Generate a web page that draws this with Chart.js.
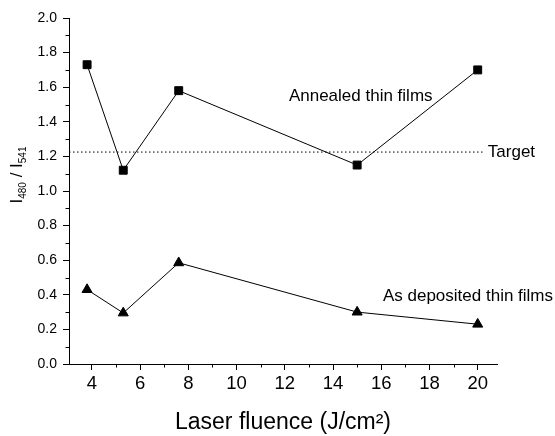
<!DOCTYPE html>
<html>
<head>
<meta charset="utf-8">
<script src="https://cdn.jsdelivr.net/npm/chart.js"></script>
<style>
  html, body { margin: 0; padding: 0; background: #fff; }
  canvas { display: block; }
</style>
</head>
<body>
<canvas id="chart" width="555" height="436"></canvas>
<script>
const fluence = [3.8, 5.3, 7.6, 15, 20];
const annealed = [1.73, 1.12, 1.58, 1.15, 1.70];
const asDeposited = [0.43, 0.295, 0.585, 0.30, 0.23];
const targetValue = 1.225;
const targetSpan = [3.05, 20.3];

const xTicks = [4, 6, 8, 10, 12, 14, 16, 18, 20];
const xMinor = [5, 7, 9, 11, 13, 15, 17, 19];
const yTicks = [0, 0.2, 0.4, 0.6, 0.8, 1.0, 1.2, 1.4, 1.6, 1.8, 2.0];
const yMinor = [0.1, 0.3, 0.5, 0.7, 0.9, 1.1, 1.3, 1.5, 1.7, 1.9];

// annotation texts, anchored in data units (left edge, vertical middle)
const notes = [
  { text: "Annealed thin films", x: 12.17, y: 1.545 },
  { text: "Target", x: 20.42, y: 1.225 },
  { text: "As deposited thin films", x: 16.07, y: 0.39 }
];

const FONT = "'Liberation Sans', Arial, sans-serif";

const points = (ys) => fluence.map((x, i) => ({ x: x, y: ys[i] }));

// minor ticks, note texts and the subscripted y title
const extras = {
  id: "extras",
  afterDraw(chart) {
    const ctx = chart.ctx;
    const xs = chart.scales.x, ys = chart.scales.y;
    const area = chart.chartArea;
    ctx.save();
    ctx.strokeStyle = "#000";
    ctx.lineWidth = 1;
    ctx.beginPath();
    xMinor.forEach(v => {
      const px = Math.round(xs.getPixelForValue(v)) + 0.5;
      ctx.moveTo(px, area.bottom);
      ctx.lineTo(px, area.bottom + 3.5);
    });
    yMinor.forEach(v => {
      const py = Math.round(ys.getPixelForValue(v)) + 0.5;
      ctx.moveTo(area.left, py);
      ctx.lineTo(area.left - 3.5, py);
    });
    ctx.stroke();

    ctx.fillStyle = "#000";
    ctx.font = "17px " + FONT;
    ctx.textBaseline = "middle";
    ctx.textAlign = "left";
    notes.forEach(n => {
      ctx.fillText(n.text, xs.getPixelForValue(n.x), ys.getPixelForValue(n.y));
    });

    // y title: I480 / I541
    const parts = [
      ["I", 17, 0], ["480", 10, 4], [" / ", 17, 0], ["I", 17, 0], ["541", 10, 4]
    ];
    let total = 0;
    parts.forEach(p => { ctx.font = p[1] + "px " + FONT; total += ctx.measureText(p[0]).width; });
    ctx.translate(22, 175);
    ctx.rotate(-Math.PI / 2);
    ctx.textBaseline = "alphabetic";
    let cx = -total / 2;
    parts.forEach(p => {
      ctx.font = p[1] + "px " + FONT;
      ctx.fillText(p[0], cx, p[2]);
      cx += ctx.measureText(p[0]).width;
    });
    ctx.restore();
  }
};

new Chart(document.getElementById("chart"), {
  type: "line",
  data: {
    datasets: [
      {
        label: "Annealed thin films",
        data: points(annealed),
        borderColor: "#000",
        backgroundColor: "#000",
        borderWidth: 1,
        pointStyle: "rect",
        pointRadius: 5.6,
        pointHoverRadius: 5.6
      },
      {
        label: "As deposited thin films",
        data: points(asDeposited),
        borderColor: "#000",
        backgroundColor: "#000",
        borderWidth: 1,
        pointStyle: "triangle",
        pointRadius: 5.8,
        pointHoverRadius: 5.8
      },
      {
        label: "Target",
        data: targetSpan.map(x => ({ x: x, y: targetValue })),
        borderColor: "#000",
        borderWidth: 1,
        borderDash: [1.5, 2.5],
        pointRadius: 0
      }
    ]
  },
  options: {
    responsive: false,
    animation: false,
    devicePixelRatio: 1,
    layout: { padding: { left: 0, top: 18, right: 58, bottom: 0 } },
    plugins: { legend: { display: false }, tooltip: { enabled: false } },
    scales: {
      x: {
        type: "linear",
        min: 3.05,
        max: 20.8,
        afterBuildTicks: s => { s.ticks = xTicks.map(v => ({ value: v })); },
        afterFit: s => { s.height = 72; },
        ticks: {
          color: "#000",
          font: { family: FONT, size: 18.5 },
          padding: 3,
          maxRotation: 0
        },
        grid: { drawOnChartArea: false, tickLength: 6, color: "#000" },
        border: { color: "#000", width: 1 },
        title: {
          display: true,
          text: "Laser fluence (J/cm\u00B2)",
          color: "#000",
          font: { family: FONT, size: 23 },
          padding: { top: 0, bottom: 0 }
        }
      },
      y: {
        min: 0,
        max: 2,
        afterBuildTicks: s => { s.ticks = yTicks.map(v => ({ value: v })); },
        afterFit: s => { s.width = 69; },
        ticks: {
          color: "#000",
          font: { family: FONT, size: 14 },
          padding: 6,
          callback: v => v.toFixed(1)
        },
        grid: { drawOnChartArea: false, tickLength: 6, color: "#000" },
        border: { color: "#000", width: 1 }
      }
    }
  },
  plugins: [extras]
});
</script>
</body>
</html>
